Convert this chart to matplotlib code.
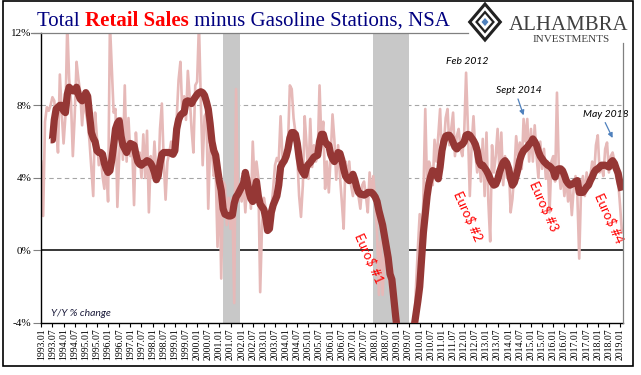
import matplotlib.pyplot as plt
import numpy as np
from matplotlib.patches import Polygon, Rectangle

# monthly Y/Y % change, 1993.01 .. 2019.02
LIGHT = [
    4.9, 1.9, 7.1, 7.9, 7.7, 8.0, 8.45, 8.25, 6.9, 5.4, 9.7, 7.6, 5.9, 7.4, 12.5, 9.5,
    8.2, 5.2, 7.4, 10.4, 9.45, 8.7, 6.9, 8.5, 7.6, 7.1, 6.0, 4.5, 3.0, 7.6, 6.2, 4.7,
    5.4, 4.1, 3.4, 4.9, 2.7, 12.5, 10.0, 7.6, 7.8, 2.4, 5.2, 7.3, 5.0, 9.1, 4.9, 7.3,
    5.2, 5.8, 2.5, 6.5, 4.9, 5.4, 4.0, 6.4, 4.0, 6.6, 2.1, 5.2, 4.0, 6.0, 4.3, 3.8,
    6.7, 8.1, 4.9, 2.8, 4.9, 5.4, 6.0, 5.4, 6.5, 7.3, 9.4, 10.4, 7.6, 8.5, 7.2,
    9.9, 8.5, 6.7, 5.4, 9.1, 9.3, 12.5, 8.2, 4.7, 7.4, 7.6, 2.3, 5.8, 5.4, 4.1, 4.5,
    0.2, 4.3, -1.55, 3.8, 3.6, 1.4, 2.9, 1.2, 2.9, -2.9, 8.9, 2.7, 3.6, 2.7, 3.8, 2.1,
    3.8, 4.0, 2.3, 6.0, 3.6, 4.9, 4.0, -2.3, 1.4, 2.9, 2.3, 1.0, 1.4, 2.3, 3.4, 4.7,
    5.1, 4.9, 7.4, 5.2, 4.9, 5.0, 5.9, 9.1, 8.9, 7.3, 6.5, 5.2, 3.0, 1.85, 3.6, 7.4,
    5.8, 3.95, 7.25, 4.6, 5.8, 4.9, 5.2, 9.1, 6.0, 7.1, 3.4, 4.9, 3.2, 5.2, 7.5, 6.1,
    3.9, 5.8, 4.1, 2.7, 1.2, 4.9, 4.1, 4.9, 3.6, 3.0, 3.95, 3.4, 3.0, 2.3, 3.6, 3.8,
    3.0, 2.1, 4.3, 3.0, 4.1, 2.7, 1.0, -2.45, 0.5, -2.45, -0.3, 0.3, -0.45, -2.0, -1.0, -3.5,
    -4.5, -5.0, -6.0, -7.0, -7.5, -7.0, -8.0, -7.0, -6.0, -5.5, -4.5, -2.0, 0.1, 2.0, -0.6, 3.0,
    7.8, 3.4, 4.9, 4.5, 3.6, 6.1, 4.9, 6.3, 7.8, 4.9, 5.8, 7.3, 7.8, 5.8, 6.7, 7.6,
    5.2, 6.3, 6.7, 5.6, 5.2, 6.5, 9.8, 6.7, 3.0, 5.8, 7.4, 5.4, 4.3, 5.2, 3.8,
    6.15, 3.0, 6.5, 2.7, 0.5, 5.8, 4.3, 5.2, 6.7, 4.3, 6.5, 3.6, 5.2, 4.0, 4.9, 2.1,
    2.85, 4.3, 6.3, 5.2, 5.95, 4.5, 7.25, 6.0, 7.25, 4.9, 6.7, 4.9, 6.9, 5.2, 4.0, 6.0,
    4.5, 5.6, 3.95, 4.9, 2.1, 4.9, 5.2, 3.8, 8.7, 4.5, 3.4, 4.3, 3.0, 4.1, 2.7, 3.6,
    1.95, 3.4, 4.1, 3.0, -0.45, 3.4, 4.1, 3.0, 4.3, 3.6, 4.1, 4.9, 4.1, 5.8, 6.35, 4.3,
    4.7, 4.1, 5.6, 5.95, 4.3, 5.2, 5.4, 4.9, 4.0, 3.8, 2.5, 1.0,
]

# smoothed series (starts 1993.06)
DARK = [np.nan] * 5 + [
    6.1, 6.1, 7.2, 7.8, 7.9, 8.0, 8.0, 7.7, 7.6, 8.6, 9.0, 8.9, 8.8, 8.8, 9.0,
    8.6, 8.35, 8.25, 8.4, 8.7, 8.5, 7.5, 6.5, 6.2, 6.0, 5.5, 5.4, 5.4, 5.3, 4.8, 4.5,
    4.3, 4.4, 5.0, 5.8, 6.7, 7.0, 7.15, 6.3, 5.8, 5.6, 5.4, 5.7, 5.9, 5.85, 5.8, 5.3,
    4.9, 4.75, 4.7, 4.8, 4.85, 4.95, 4.9, 4.8, 4.6, 4.3, 3.9, 4.1, 4.8, 5.3, 5.4, 5.4,
    5.4, 5.4, 5.35, 5.3, 5.5, 6.7, 7.2, 7.45, 7.55, 7.6, 8.2,
    8.25, 8.2, 8.1, 8.3, 8.45, 8.6, 8.7, 8.75, 8.7, 8.55, 8.2, 7.8, 7.0, 6.0, 5.5, 5.25,
    4.5, 3.8, 3.3, 2.3, 2.0, 1.95, 1.9, 1.9, 1.95, 2.6, 2.95, 3.1, 3.3, 3.5, 3.7, 4.3,
    3.8, 3.2, 2.85, 2.7, 3.3, 3.8, 3.0, 2.55, 2.4, 2.25, 1.8, 1.1, 1.2, 2.1, 2.5, 2.75,
    3.0, 3.6, 4.6, 4.8, 4.95, 5.2, 5.6, 6.2, 6.5, 6.5, 6.4, 5.9, 5.1, 4.5, 4.3, 4.15,
    4.6, 4.75, 4.85, 5.0, 5.15, 5.2, 5.25, 6.0, 6.4, 6.4, 6.0, 5.85, 5.8, 5.3, 5.05, 4.9,
    5.1, 5.4, 5.35, 5.0, 4.5, 4.1, 3.95, 3.85, 4.0, 4.2, 3.9, 3.5, 3.2, 3.1, 3.1, 3.05,
    3.1, 3.2, 3.2, 3.2, 3.1, 2.95, 2.7, 2.2, 1.8, 1.4, 0.8, 0.2, -0.4, -1.3, -1.6, -2.6,
    -3.6, -4.5, -5.5, -6.3, -6.8, -7.0, -7.0, -6.6, -6.0, -5.2, -4.2, -3.5, -2.8, -2.0, -0.5, 1.0,
    2.0, 3.0, 3.7, 4.1, 4.4, 4.35, 4.2, 3.95, 4.6, 5.5, 6.0, 6.3, 6.35, 6.35, 6.2, 5.95,
    5.7, 5.6, 5.75, 5.8, 5.85, 6.0, 6.35, 6.4, 6.35, 6.2, 6.05, 5.85, 5.5, 4.9, 4.7,
    4.7, 4.55, 4.4, 4.2, 3.95, 3.75, 3.6, 3.65, 3.9, 4.3, 4.6, 4.85, 4.95, 4.8, 4.5, 3.95,
    3.6, 3.75, 4.1, 4.5, 5.0, 5.3, 5.5, 5.6, 5.7, 5.85, 5.95, 6.15, 6.0, 5.8, 5.45, 5.2,
    5.05, 4.9, 4.8, 4.7, 4.65, 4.55, 4.4, 4.05, 4.45, 4.5, 4.5, 4.4, 4.15, 3.85, 3.7, 3.6,
    3.65, 3.7, 3.8, 3.85, 3.2, 3.2, 3.2, 3.35, 3.5, 3.6, 3.85, 4.05, 4.3, 4.45, 4.5, 4.6,
    4.7, 4.7, 4.7, 4.65, 4.6, 4.85, 4.95, 4.8, 4.5, 4.25, 3.7, 3.3,
]

START_YEAR = 1993
TICK_LABELS = [f"{y}.{m}" for y in range(1993, 2020) for m in ("01", "07")][:-1]
RECESSIONS = [("2001.03", "2001.12"), ("2007.12", "2009.07")]
YTICKS = [-4, 0, 4, 8, 12]

NOTES = [("Feb 2012", "2012.02", 10.4), ("Sept 2014", "2014.06", 8.8), ("May 2018", "2018.05", 7.5)]
ARROWS = [("2014.06", 8.35, "2014.09", 7.45), ("2018.05", 7.05, "2018.09", 6.2)]
EURO = [("Euro$ #1", "2007.10", -0.4), ("Euro$ #2", "2012.03", 1.9),
        ("Euro$ #3", "2015.08", 2.45), ("Euro$ #4", "2018.07", 1.8)]


def midx(label):
    y, m = label.split(".")
    return (int(y) - START_YEAR) * 12 + int(m) - 1


def main():
    fig = plt.figure(figsize=(6.41, 3.75), dpi=100)
    ax = fig.add_axes([41.3 / 641, 52 / 375, 581.7 / 641, 290.2 / 375])
    months = np.arange(len(LIGHT))

    for a, b in RECESSIONS:
        ax.axvspan(midx(a), midx(b), color="#C8C8C8", lw=0, zorder=1.5)
    for g in (4, 8):
        ax.axhline(g, color="#A6A6A6", lw=0.8, ls=(0, (4, 3)), zorder=1)
    ax.axhline(0, color="black", lw=1.1, zorder=1.2)

    ax.plot(months, LIGHT, color="#E6B9B8", lw=1.9, zorder=2, solid_joinstyle="round")
    ax.plot(months, DARK, color="#953735", lw=5.2, zorder=3,
            solid_joinstyle="round", solid_capstyle="butt")

    ax.set_xlim(0, 313.6)
    ax.set_ylim(-4, 12)
    ax.set_xticks(range(0, 6 * len(TICK_LABELS), 6))
    ax.set_xticklabels(TICK_LABELS, rotation=90, fontsize=7, family="Liberation Serif")
    ax.set_yticks(YTICKS)
    ax.set_yticklabels([f"{v}%" for v in YTICKS], fontsize=8, family="Liberation Serif")
    ax.tick_params(axis="x", direction="out", length=3, width=0.8, pad=1)
    ax.tick_params(axis="y", direction="out", length=6, width=0.8, color="#808080", pad=1)
    for s in ("top", "right"):
        ax.spines[s].set_visible(False)
    ax.spines["left"].set_linewidth(1.0)
    ax.spines["bottom"].set_linewidth(1.0)

    for txt, pos, yv in NOTES:
        ax.text(midx(pos) + 0.5, yv, txt, fontsize=7.5, style="italic", family="Lato",
                ha="center", va="center", zorder=6)
    for a, ya, b, yb in ARROWS:
        ax.annotate("", xy=(midx(b), yb), xytext=(midx(a), ya), zorder=6,
                    arrowprops=dict(arrowstyle="-|>", color="#4F81BD", lw=0.9,
                                    mutation_scale=7, shrinkA=0, shrinkB=0))
    for txt, pos, yv in EURO:
        ax.text(midx(pos), yv, txt, fontsize=9.5, color="#FF0000", family="Lato",
                rotation=-66, ha="center", va="center", rotation_mode="anchor", zorder=6)
    ax.text(5.4, -3.45, "Y/Y % change", fontsize=7.5, style="italic", family="Lato",
            color="#1a1a3a", ha="left", va="center")

    # overlay in pixel coordinates for frame, title and logo
    ov = fig.add_axes([0, 0, 1, 1], zorder=5)
    ov.set_xlim(0, 641)
    ov.set_ylim(375, 0)
    ov.axis("off")
    ov.patch.set_alpha(0)
    ov.add_patch(Rectangle((3, 1), 630, 365, fill=False, ec="black", lw=1.2))
    ov.plot([31, 468], [32.8, 32.8], color="#808080", lw=0.9)
    ov.plot([623, 623], [43, 323], color="#808080", lw=0.9)

    renderer = fig.canvas.get_renderer()
    x = 37
    for txt, color, weight in [("Total ", "#000080", "normal"),
                               ("Retail Sales", "#FF0000", "bold"),
                               (" minus Gasoline Stations, NSA", "#000080", "normal")]:
        t = ov.text(x, 26, txt, color=color, fontweight=weight, fontsize=15,
                    family="Liberation Serif", va="baseline", ha="left")
        x += t.get_window_extent(renderer).width

    # logo
    cx, cy, r = 485, 22, 18
    ov.add_patch(Polygon([(cx, cy - r), (cx + r * 0.85, cy), (cx, cy + r), (cx - r * 0.85, cy)],
                         closed=True, fill=False, ec="#222222", lw=2.2))
    for k in (-0.5, 0.5):
        ov.plot([cx - r * 0.85 * (0.5 - k), cx + r * 0.85 * (0.5 + k)],
                [cy - r * (0.5 + k), cy + r * (0.5 - k)],
                color="#222222", lw=1.2)
    ov.add_patch(Polygon([(cx, cy - r * 0.55), (cx + r * 0.47, cy), (cx, cy + r * 0.55), (cx - r * 0.47, cy)],
                         closed=True, fill=False, ec="#222222", lw=1.6))
    ov.add_patch(Polygon([(cx, cy - 4), (cx + 3.5, cy), (cx, cy + 4), (cx - 3.5, cy)],
                         closed=True, fc="#4F81BD", ec="none"))
    ov.text(509, 30, "ALHAMBRA", fontsize=15, family="Liberation Serif", color="#404040",
            va="baseline", ha="left")
    ov.text(571, 41.5, "INVESTMENTS", fontsize=8, family="Liberation Serif", color="#404040",
            va="baseline", ha="center")

    fig.savefig("out.png", dpi=100)
    plt.close(fig)


if __name__ == "__main__":
    main()
